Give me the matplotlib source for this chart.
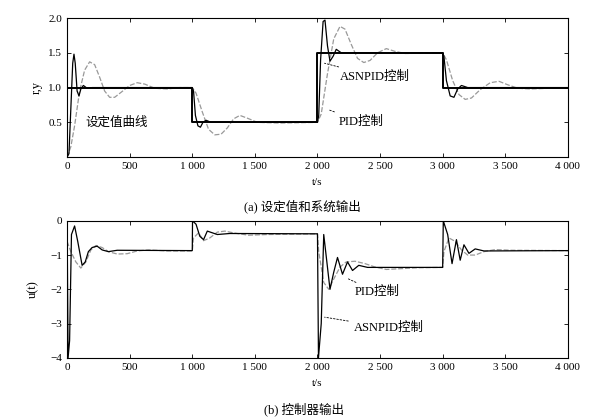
import numpy as np
import matplotlib
matplotlib.use('Agg')
import matplotlib.pyplot as plt

plt.rcParams['font.family'] = ['Liberation Serif', 'Noto Sans CJK SC']

# setpoint r(t)
t_set = [0, 0, 1000, 1000, 2000, 2000, 3000, 3000, 4000]
r_set = [0, 1.0, 1.0, 0.5, 0.5, 1.5, 1.5, 1.0, 1.0]

# system output, ASNPID control
t_y_asn = [0, 15, 30, 45, 55, 65, 80, 95, 110, 130, 160, 200, 1000, 1010, 1025, 1045, 1065, 1085,
           1110, 1150, 2000, 2010, 2025, 2045, 2060, 2080, 2100, 2125, 2150, 2190, 2240, 3000, 3010,
           3030, 3060, 3090, 3120, 3150, 3200, 4000]
y_asn = [0, 0.05, 0.7, 1.35, 1.48, 1.35, 0.95, 0.88, 0.98, 1.03, 0.99, 1.0, 1.0, 0.95, 0.6, 0.45, 0.43, 0.5,
         0.53, 0.5, 0.5, 0.6, 1.4, 1.95, 1.97, 1.6, 1.38, 1.45, 1.55, 1.5, 1.5, 1.5, 1.45,
         1.1, 0.88, 0.86, 0.98, 1.03, 1.0, 1.0]

# system output, PID control
t_y_pid = [0, 30, 60, 100, 140, 180, 220, 260, 300, 340, 380, 430, 500, 560, 620, 700, 800, 900, 1000,
           1030, 1080, 1130, 1180, 1230, 1280, 1330, 1380, 1440, 1520, 1700, 2000, 2030, 2080, 2130,
           2180, 2220, 2270, 2320, 2370, 2420, 2480, 2550, 2620, 2700, 3000, 3030, 3080, 3130, 3180,
           3230, 3300, 3380, 3450, 3520, 3600, 3700, 4000]
y_pid = [0, 0.15, 0.45, 0.95, 1.25, 1.37, 1.33, 1.15, 0.95, 0.86, 0.86, 0.93, 1.03, 1.07, 1.05, 0.99, 0.98, 1.0, 1.0,
         0.92, 0.65, 0.4, 0.32, 0.33, 0.42, 0.55, 0.6, 0.56, 0.5, 0.49, 0.5, 0.62, 1.2, 1.7,
         1.88, 1.84, 1.62, 1.42, 1.36, 1.39, 1.5, 1.56, 1.52, 1.49, 1.5, 1.4, 1.1, 0.9, 0.83,
         0.85, 0.97, 1.07, 1.09, 1.04, 0.99, 0.98, 1.0]

# controller output, ASNPID
t_u_asn = [0, 8, 20, 35, 60, 85, 120, 145, 170, 200, 240, 280, 330, 400, 1000, 1002, 1030, 1060, 1090,
           1120, 1160, 1200, 1300, 2000, 2008, 2030, 2050, 2075, 2100, 2130, 2160, 2200, 2240, 2280,
           2330, 2400, 3000, 3005, 3040, 3075, 3110, 3140, 3170, 3210, 3260, 3330, 4000]
u_asn = [0, -4.0, -3.5, -0.4, -0.15, -0.6, -1.3, -1.2, -0.9, -0.78, -0.74, -0.85, -0.9, -0.86, -0.87, 0, -0.1, -0.45, -0.55,
         -0.3, -0.35, -0.4, -0.37, -0.38, -4.0, -3.0, -0.4, -1.2, -2.0, -1.5, -1.07, -1.56, -1.2, -1.45,
         -1.3, -1.36, -1.36, 0, -0.4, -1.25, -0.55, -1.15, -0.7, -0.95, -0.82, -0.88, -0.87]

# controller output, PID
t_u_pid = [0, 30, 70, 110, 150, 190, 230, 280, 330, 400, 480, 560, 650, 800, 1000, 1010, 1050, 1090, 1140,
           1200, 1260, 1340, 1450, 1600, 2000, 2010, 2050, 2090, 2130, 2180, 2230, 2300, 2380, 2460,
           2550, 2650, 2800, 3000, 3010, 3050, 3100, 3150, 3200, 3260, 3330, 3420, 3550, 4000]
u_pid = [-0.6, -0.9, -1.2, -1.38, -1.2, -0.85, -0.72, -0.78, -0.9, -0.97, -0.96, -0.88, -0.85, -0.88, -0.88, -0.5, -0.35, -0.58, -0.5,
         -0.33, -0.3, -0.36, -0.42, -0.4, -0.38, -0.9, -1.8, -2.0, -1.7, -1.35, -1.2, -1.18, -1.25, -1.35,
         -1.42, -1.4, -1.37, -1.36, -0.9, -0.5, -0.6, -0.85, -1.0, -1.0, -0.9, -0.84, -0.86, -0.87]

xticks = [0, 500, 1000, 1500, 2000, 2500, 3000, 3500, 4000]
xticklabels = ['0', '500', '1 000', '1 500', '2 000', '2 500', '3 000', '3 500', '4 000']

fig = plt.figure(figsize=(5.99, 4.19), dpi=100)
ax1 = fig.add_axes([0.112, 0.625, 0.836, 0.332])
ax2 = fig.add_axes([0.112, 0.146, 0.836, 0.327])

pid_style = dict(color='0.6', lw=0.9, ls=(0, (4, 1.5)))

ax1.plot(t_y_pid, y_pid, **pid_style)
ax1.plot(t_set, r_set, color='k', lw=1.4)
ax1.plot(t_y_asn, y_asn, color='k', lw=0.9)
ax1.set_ylim(0, 2.0)
ax1.set_yticks([0.5, 1.0, 1.5, 2.0])
ax1.set_yticklabels(['0.5', '1.0', '1.5', '2.0'])
ax1.set_ylabel('r,y', fontsize=9, labelpad=4)

ax2.plot(t_u_pid, u_pid, **pid_style)
ax2.plot(t_u_asn, u_asn, color='k', lw=0.9)
ax2.set_ylim(-4, 0)
ax2.set_yticks([0, -1, -2, -3, -4])
ax2.set_ylabel('u(t)', fontsize=9, labelpad=8)

for ax in (ax1, ax2):
    ax.set_xlim(0, 4000)
    ax.set_xticks(xticks)
    ax.set_xticklabels(xticklabels)
    ax.tick_params(direction='in', top=True, right=True, labelsize=8, length=3, width=0.6)
    ax.set_xlabel('t/s', fontsize=8, labelpad=5)
    for s in ax.spines.values():
        s.set_linewidth(0.8)

lead = dict(arrowstyle='-', ls=(0, (2, 2)), color='k', lw=0.6)
ax1.text(150, 0.5, '设定值曲线', fontsize=9, va='center', ha='left')
ax1.annotate('ASNPID控制', xy=(2035, 1.36), xytext=(2180, 1.16), fontsize=9, va='center',
             arrowprops=lead)
ax1.annotate('PID控制', xy=(2075, 0.69), xytext=(2170, 0.51), fontsize=9, va='center',
             arrowprops=lead)
ax2.annotate('PID控制', xy=(2220, -1.65), xytext=(2300, -2.09), fontsize=9, va='center',
             arrowprops=lead)
ax2.annotate('ASNPID控制', xy=(2035, -2.8), xytext=(2290, -3.12), fontsize=9, va='center',
             arrowprops=lead)

fig.text(0.505, 0.508, '(a) 设定值和系统输出', fontsize=9, ha='center', va='center')
fig.text(0.507, 0.024, '(b) 控制器输出', fontsize=9, ha='center', va='center')

fig.savefig('out.png', dpi=100)
